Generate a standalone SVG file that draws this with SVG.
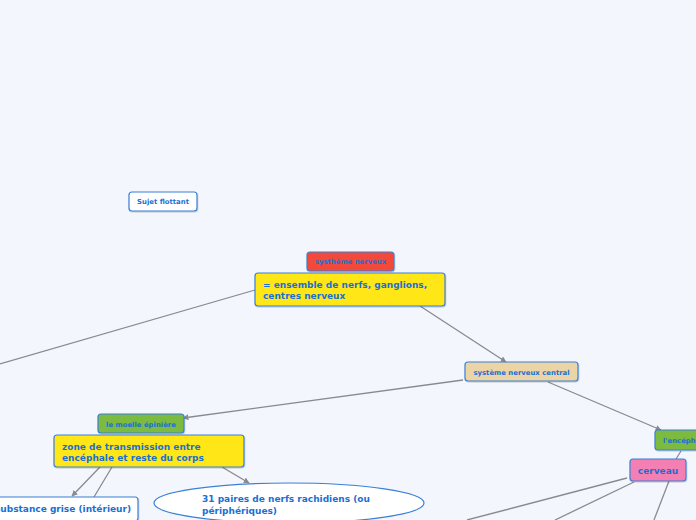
<svg xmlns="http://www.w3.org/2000/svg" width="696" height="520" viewBox="0 0 696 520">
<style>
.bg{fill:#f3f6fd}
.n{stroke:#3b80d6;stroke-width:1.2}
.t{font-family:"DejaVu Sans",Verdana,sans-serif;font-weight:bold;fill:#1a6fd4}
.s{font-size:6.9px}
.m{font-size:9px}
.c{stroke:#8a8a8e;stroke-width:1.3;fill:none}
</style>
<defs>
<marker id="a" viewBox="0 0 10 10" refX="9" refY="5" markerWidth="6" markerHeight="6" markerUnits="userSpaceOnUse" orient="auto">
<path d="M0,0 L10,5 L0,10 z" fill="#8a8a8e"/>
</marker>
<filter id="sh" x="-10%" y="-10%" width="130%" height="150%">
<feDropShadow dx="0.5" dy="1" stdDeviation="0.6" flood-color="#000" flood-opacity="0.2"/>
</filter>
</defs>
<rect class="bg" x="0" y="0" width="696" height="520"/>
<g id="connectors">
<line class="c" x1="255" y1="290" x2="0" y2="364"/>
<line class="c" x1="420" y1="306" x2="506" y2="362" marker-end="url(#a)"/>
<line class="c" x1="463" y1="380" x2="183" y2="418" marker-end="url(#a)"/>
<line class="c" x1="548" y1="382" x2="661" y2="430" marker-end="url(#a)"/>
<line class="c" x1="100" y1="467" x2="72" y2="496" marker-end="url(#a)"/>
<line class="c" x1="112" y1="467" x2="94" y2="497"/>
<line class="c" x1="222" y1="467" x2="249" y2="483" marker-end="url(#a)"/>
<line class="c" x1="681" y1="451" x2="676" y2="459"/>
<line class="c" x1="627" y1="478" x2="467" y2="520"/>
<line class="c" x1="634" y1="482" x2="555" y2="520"/>
<line class="c" x1="669" y1="481" x2="654" y2="520"/>
</g>
<g id="sujet-flottant">
<rect class="n" x="129" y="192" width="68" height="19" rx="3" fill="#ffffff" filter="url(#sh)"/>
<text class="t s" x="163" y="204" text-anchor="middle">Sujet flottant</text>
</g>
<g id="systheme-nerveux">
<rect class="n" x="307" y="252" width="87" height="19" rx="3" fill="#f2483a" filter="url(#sh)"/>
<text class="t s" x="350.5" y="264" text-anchor="middle">systhème nerveux</text>
</g>
<g id="definition">
<rect class="n" x="255" y="273" width="190" height="33" rx="3" fill="#ffe614" filter="url(#sh)"/>
<text class="t m" x="263" y="288">= ensemble de nerfs, ganglions,</text>
<text class="t m" x="263" y="299">centres nerveux</text>
</g>
<g id="snc">
<rect class="n" x="465" y="362" width="113" height="19" rx="3" fill="#ebd4a6" filter="url(#sh)"/>
<text class="t s" x="521.5" y="374.5" text-anchor="middle">système nerveux central</text>
</g>
<g id="moelle">
<rect class="n" x="98" y="414" width="86" height="19" rx="3" fill="#7bbb41" filter="url(#sh)"/>
<text class="t s" x="141" y="426.5" text-anchor="middle">le moelle épinière</text>
</g>
<g id="zone">
<rect class="n" x="54" y="435" width="190" height="32" rx="3" fill="#ffe614" filter="url(#sh)"/>
<text class="t m" x="62" y="450">zone de transmission entre</text>
<text class="t m" x="62" y="461">encéphale et reste du corps</text>
</g>
<g id="substance-grise">
<rect class="n" x="-12" y="497" width="150" height="24" rx="3" fill="#ffffff" filter="url(#sh)"/>
<text class="t m" x="63" y="512" text-anchor="middle">substance grise (intérieur)</text>
</g>
<g id="paires-nerfs">
<ellipse class="n" cx="289" cy="503" rx="135" ry="20" fill="#ffffff"/>
<text class="t m" x="202" y="502">31 paires de nerfs rachidiens (ou</text>
<text class="t m" x="202" y="514">périphériques)</text>
</g>
<g id="encephale">
<rect class="n" x="655" y="430" width="60" height="20" rx="3" fill="#7bbb41" filter="url(#sh)"/>
<text class="t s" x="663" y="442.5">l'encéphale</text>
</g>
<g id="cerveau">
<rect class="n" x="630" y="459" width="56" height="22" rx="3" fill="#f47fb2" filter="url(#sh)"/>
<text class="t m" x="658" y="473.5" text-anchor="middle">cerveau</text>
</g>
</svg>
